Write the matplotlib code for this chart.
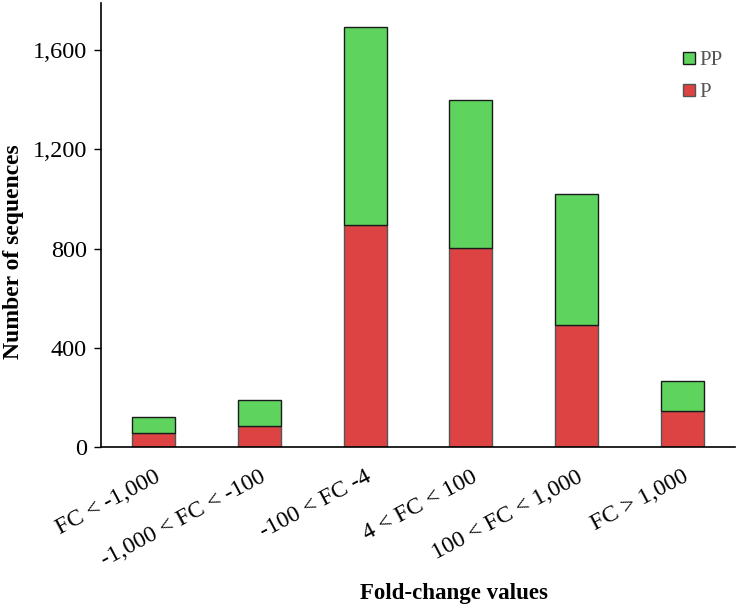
import matplotlib
matplotlib.use("Agg")
import matplotlib.pyplot as plt
from matplotlib.lines import Line2D
from matplotlib.ticker import FuncFormatter

categories = ["FC < -1,000", "-1,000 < FC < -100", "-100 < FC -4",
              "4 < FC < 100", "100 < FC < 1,000", "FC > 1,000"]
p_values = [57, 83, 893, 801, 490, 146]
total_values = [121, 188, 1694, 1399, 1021, 266]
pp_values = [t - p for t, p in zip(total_values, p_values)]
y_ticks = [0, 400, 800, 1200, 1600]

plt.rcParams['font.family'] = ['Liberation Serif', 'DejaVu Serif']

W, H = 739, 609
fig = plt.figure(figsize=(W / 100, H / 100), dpi=100)
ax = fig.add_axes([101 / W, (H - 447) / H, 634 / W, 444 / H])

red = '#DE4343'
green = '#5ED45E'
x = list(range(len(categories)))
ax.bar(x, p_values, width=0.41, color=red, edgecolor='#555555', linewidth=1.0)
ax.bar(x, pp_values, bottom=p_values, width=0.41, color=green, edgecolor='#1a1a1a', linewidth=1.0)

ax.set_xlim(-0.5, 5.5)
ax.set_ylim(0, 1790)
ax.set_yticks(y_ticks)
ax.yaxis.set_major_formatter(FuncFormatter(lambda v, _: f"{int(v):,}"))
ax.tick_params(axis='y', labelsize=17.5, length=5, width=1, direction='out', pad=5)
ax.set_xticks(x)
ax.set_xticklabels(categories, rotation=28, ha='right', rotation_mode='anchor', fontsize=17)
ax.tick_params(axis='x', length=0, pad=14)
for s in ['top', 'right']:
    ax.spines[s].set_visible(False)
ax.spines['left'].set_linewidth(1.2)
ax.spines['bottom'].set_linewidth(1.2)

fig.text(14 / W, 1 - 252 / H, "Number of sequences", rotation=90, fontsize=17,
         fontweight='bold', ha='center', va='center')
fig.text(454 / W, 1 - 594 / H, "Fold-change values", fontsize=16.5,
         fontweight='bold', ha='center', va='center')

handles = [Line2D([], [], linestyle='none', marker='s', markersize=9,
                  markerfacecolor=green, markeredgecolor='#1a1a1a', label='PP'),
           Line2D([], [], linestyle='none', marker='s', markersize=9,
                  markerfacecolor=red, markeredgecolor='#555555', label='P')]
leg = fig.legend(handles=handles, loc='upper left', bbox_to_anchor=(670 / W, 1 - 40 / H),
                 frameon=False, fontsize=15, handlelength=0.8, handletextpad=0.1,
                 labelspacing=0.6, borderpad=0)
for t in leg.get_texts():
    t.set_color('#555555')

fig.savefig("out.png", dpi=100)
